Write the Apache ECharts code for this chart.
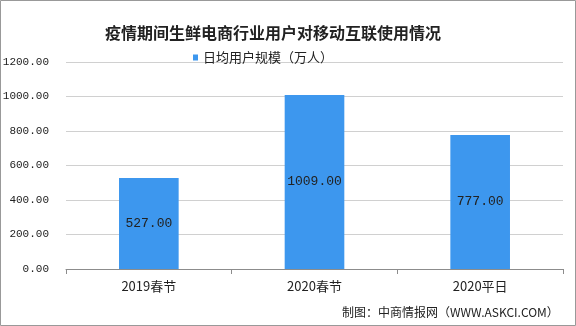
<!DOCTYPE html>
<html><head><meta charset="utf-8">
<script src="https://cdn.jsdelivr.net/npm/echarts@6/dist/echarts.min.js"></script>
<style>html,body{margin:0;padding:0;background:#fff}#c{width:576px;height:326px}</style>
</head><body><div id="c"></div>
<script>
const categories = ['2019春节', '2020春节', '2020平日'];
const values = [527, 1009, 777];
const yTicks = [0, 200, 400, 600, 800, 1000, 1200];
const seriesName = '日均用户规模（万人）';
const titleText = '疫情期间生鲜电商行业用户对移动互联使用情况';
const sourceText = '制图：中商情报网（WWW.ASKCI.COM）';

const chart = echarts.init(document.getElementById('c'));
chart.setOption({
  backgroundColor: '#fff',
  animation: false,
  title: {
    text: titleText, left: 268, top: 20, textAlign: 'center',
    textStyle: {fontFamily: 'Noto Sans CJK SC', fontWeight: 'bold', fontSize: 16, color: '#222'}
  },
  legend: {
    data: [seriesName], left: 188, top: 46, itemWidth: 5, itemHeight: 6, itemGap: 5,
    icon: 'rect',
    textStyle: {fontFamily: 'Noto Sans CJK SC', fontSize: 13, color: '#222'}
  },
  grid: {left: 66, right: 13, top: 62, bottom: 57, containLabel: false, outerBoundsMode: 'none'},
  xAxis: {
    type: 'category', data: categories,
    axisLine: {lineStyle: {color: '#8c8c8c'}},
    axisTick: {show: true, alignWithLabel: false, length: 5, lineStyle: {color: '#8c8c8c'}},
    axisLabel: {fontFamily: 'Noto Sans CJK SC', fontSize: 13, color: '#222', margin: 11}
  },
  yAxis: {
    type: 'value', min: yTicks[0], max: yTicks[yTicks.length - 1], interval: 200,
    axisLine: {show: false}, axisTick: {show: false},
    splitLine: {lineStyle: {color: '#d0d0d0'}},
    axisLabel: {fontFamily: 'Liberation Mono', fontSize: 11, color: '#222', margin: 17,
      formatter: v => v.toFixed(2)}
  },
  series: [{
    name: seriesName, type: 'bar', data: values, barWidth: '36%',
    itemStyle: {color: '#3d97ee'},
    label: {show: true, position: 'inside', fontFamily: 'Liberation Mono', fontSize: 13, color: '#222',
      formatter: p => p.value.toFixed(2)}
  }],
  graphic: [
    {type: 'rect', shape: {x: 0.5, y: 0.5, width: 575, height: 325}, style: {fill: 'none', stroke: '#999', lineWidth: 1}},
    {type: 'text', left: 342, top: 306, style: {text: sourceText, font: '12px "Noto Sans CJK SC"', fill: '#222'}}
  ]
});
</script></body></html>
